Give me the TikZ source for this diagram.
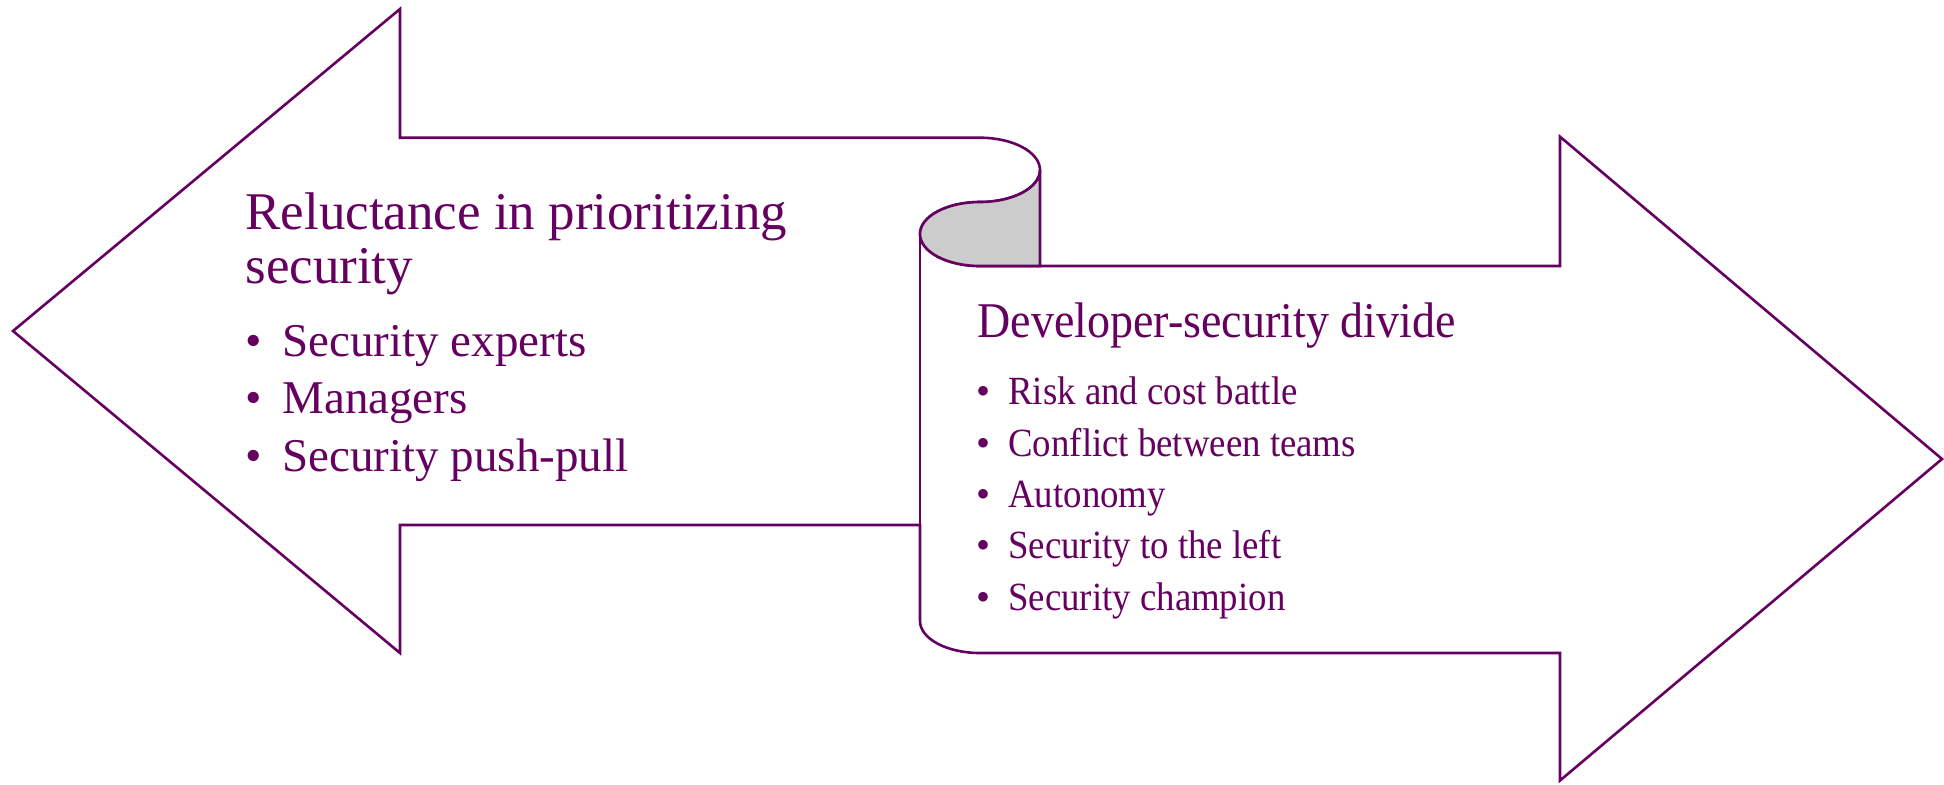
\documentclass[tikz,border=0pt]{standalone}
\usepackage{fontspec}
\setmainfont{Liberation Serif}
\newfontfamily\condfont{Liberation Serif}[FakeStretch=0.92]
\definecolor{plum}{RGB}{102,0,96}
\definecolor{curlgray}{RGB}{204,204,204}
\begin{document}
\begin{tikzpicture}[x=0.5pt,y=-0.5pt,
  outline/.style={draw=plum,line width=1.3pt,line join=miter},
  txt/.style={inner sep=0pt,text=plum},
  lhead/.style={txt,anchor=base west,font=\fontsize{26.5pt}{30pt}\selectfont},
  litem/.style={txt,anchor=base west,font=\fontsize{23.5pt}{28pt}\selectfont},
  lbul/.style={txt,anchor=base,font=\fontsize{23.5pt}{28pt}\selectfont},
  rhead/.style={txt,anchor=base west,font=\condfont\fontsize{25pt}{30pt}\selectfont},
  ritem/.style={txt,anchor=base west,font=\condfont\fontsize{20pt}{24pt}\selectfont},
  rbul/.style={txt,anchor=base,font=\fontsize{20pt}{24pt}\selectfont}]
\useasboundingbox (0,0) rectangle (1944,784);

% combined outline of both arrows and the scroll
\draw[outline,fill=white] (920,525) -- (400,525) -- (400,653) -- (13,331) -- (400,9) -- (400,137.7) -- (980,137.7)
  .. controls (1013.1,137.7) and (1040,152.2) .. (1040,170)
  .. controls (1040,187.7) and (1013.1,202) .. (980,202)
  .. controls (946.9,202) and (920,216.3) .. (920,234)
  .. controls (920,251.7) and (946.9,266) .. (980,266)
  -- (1560,266) -- (1560,136.7) -- (1942,459) -- (1560,780.5) -- (1560,653) -- (980,653)
  .. controls (946.9,653) and (920,638.7) .. (920,621) -- cycle;
\draw[outline] (920,234) -- (920,525);

% shaded fold of the scroll
\draw[outline,fill=curlgray] (1040,170)
  .. controls (1040,187.7) and (1013.1,202) .. (980,202)
  .. controls (946.9,202) and (920,216.3) .. (920,234)
  .. controls (920,251.7) and (946.9,266) .. (980,266)
  -- (1040,266) -- cycle;

% left text
\node[lhead] (lh1) at (245,229) {Reluctance in prioritizing};
\node[lhead] (lh2) at (245,283) {security};
\node[lbul] (lb1) at (254,356) {•};
\node[litem] (li1) at (282,356) {Security experts};
\node[lbul] (lb2) at (254,413.5) {•};
\node[litem] (li2) at (282,413.5) {Managers};
\node[lbul] (lb3) at (254,471) {•};
\node[litem] (li3) at (282,471) {Security push-pull};

% right text
\node[rhead] (rh) at (977,337) {Developer-security divide};
\node[rbul] (rb1) at (983,404) {•};
\node[ritem] (ri1) at (1008,404) {Risk and cost battle};
\node[rbul] (rb2) at (983,456) {•};
\node[ritem] (ri2) at (1008,456) {Conflict between teams};
\node[rbul] (rb3) at (983,507.5) {•};
\node[ritem] (ri3) at (1008,507.5) {Autonomy};
\node[rbul] (rb4) at (983,558.5) {•};
\node[ritem] (ri4) at (1008,558.5) {Security to the left};
\node[rbul] (rb5) at (983,610) {•};
\node[ritem] (ri5) at (1008,610) {Security champion};
\end{tikzpicture}
\end{document}
